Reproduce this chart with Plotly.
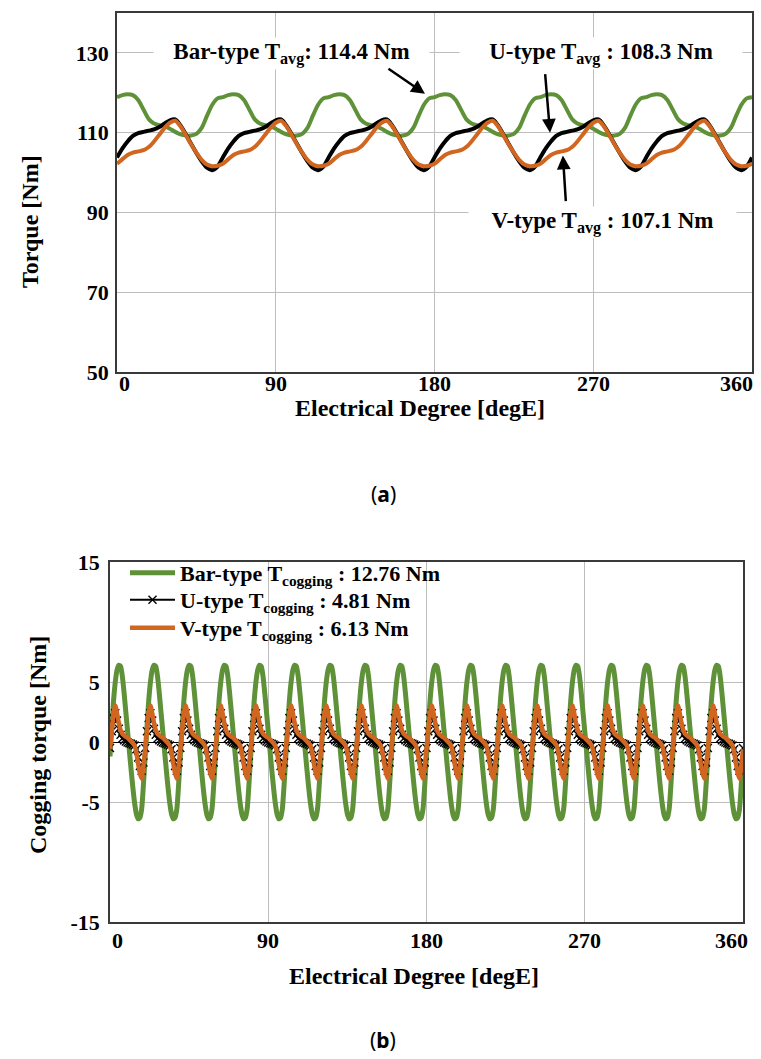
import plotly.graph_objects as go

W, H = 761, 1059
SERIF = "Liberation Serif, Times New Roman, Times, serif"
GREEN = "#5e9138"
ORANGE = "#d0661f"
GRID = "#bdbdbd"
FRAME = "#3a3a3a"

# ---------------- (a) torque waveforms, sampled every 3 degE ----------------
deg_a = list(range(0, 361, 3))

torque_bar = [
    118.9, 119.4, 119.6, 119.4, 118.2, 115.8, 113.4, 112.3, 111.9, 111.6, 111.0, 110.2, 109.6, 109.3, 109.3, 109.7, 111.2, 114.2, 117.0, 118.6,
    118.9, 119.4, 119.6, 119.4, 118.2, 115.8, 113.4, 112.3, 111.9, 111.6, 111.0, 110.2, 109.6, 109.3, 109.3, 109.7, 111.2, 114.2, 117.0, 118.6,
    118.9, 119.4, 119.6, 119.4, 118.2, 115.8, 113.4, 112.3, 111.9, 111.6, 111.0, 110.2, 109.6, 109.3, 109.3, 109.7, 111.2, 114.2, 117.0, 118.6,
    118.9, 119.4, 119.6, 119.4, 118.2, 115.8, 113.4, 112.3, 111.9, 111.6, 111.0, 110.2, 109.6, 109.3, 109.3, 109.7, 111.2, 114.2, 117.0, 118.6,
    118.9, 119.4, 119.6, 119.4, 118.2, 115.8, 113.4, 112.3, 111.9, 111.6, 111.0, 110.2, 109.6, 109.3, 109.3, 109.7, 111.2, 114.2, 117.0, 118.6,
    118.9, 119.4, 119.6, 119.4, 118.2, 115.8, 113.4, 112.3, 111.9, 111.6, 111.0, 110.2, 109.6, 109.3, 109.3, 109.7, 111.2, 114.2, 117.0, 118.6,
    118.9,
]

torque_u = [
    103.8, 106.0, 107.8, 109.2, 109.9, 110.2, 110.5, 110.8, 111.4, 112.3, 113.1, 113.3, 111.8, 109.6, 107.2, 104.9, 102.8, 101.2, 100.6, 101.5,
    103.8, 106.0, 107.8, 109.2, 109.9, 110.2, 110.5, 110.8, 111.4, 112.3, 113.1, 113.3, 111.8, 109.6, 107.2, 104.9, 102.8, 101.2, 100.6, 101.5,
    103.8, 106.0, 107.8, 109.2, 109.9, 110.2, 110.5, 110.8, 111.4, 112.3, 113.1, 113.3, 111.8, 109.6, 107.2, 104.9, 102.8, 101.2, 100.6, 101.5,
    103.8, 106.0, 107.8, 109.2, 109.9, 110.2, 110.5, 110.8, 111.4, 112.3, 113.1, 113.3, 111.8, 109.6, 107.2, 104.9, 102.8, 101.2, 100.6, 101.5,
    103.8, 106.0, 107.8, 109.2, 109.9, 110.2, 110.5, 110.8, 111.4, 112.3, 113.1, 113.3, 111.8, 109.6, 107.2, 104.9, 102.8, 101.2, 100.6, 101.5,
    103.8, 106.0, 107.8, 109.2, 109.9, 110.2, 110.5, 110.8, 111.4, 112.3, 113.1, 113.3, 111.8, 109.6, 107.2, 104.9, 102.8, 101.2, 100.6, 101.5,
    103.8,
]

torque_v = [
    102.2, 103.3, 104.4, 105.0, 105.3, 105.6, 106.4, 107.8, 109.5, 111.2, 112.5, 113.0, 111.6, 109.4, 107.1, 105.0, 103.2, 102.0, 101.6, 101.7,
    102.2, 103.3, 104.4, 105.0, 105.3, 105.6, 106.4, 107.8, 109.5, 111.2, 112.5, 113.0, 111.6, 109.4, 107.1, 105.0, 103.2, 102.0, 101.6, 101.7,
    102.2, 103.3, 104.4, 105.0, 105.3, 105.6, 106.4, 107.8, 109.5, 111.2, 112.5, 113.0, 111.6, 109.4, 107.1, 105.0, 103.2, 102.0, 101.6, 101.7,
    102.2, 103.3, 104.4, 105.0, 105.3, 105.6, 106.4, 107.8, 109.5, 111.2, 112.5, 113.0, 111.6, 109.4, 107.1, 105.0, 103.2, 102.0, 101.6, 101.7,
    102.2, 103.3, 104.4, 105.0, 105.3, 105.6, 106.4, 107.8, 109.5, 111.2, 112.5, 113.0, 111.6, 109.4, 107.1, 105.0, 103.2, 102.0, 101.6, 101.7,
    102.2, 103.3, 104.4, 105.0, 105.3, 105.6, 106.4, 107.8, 109.5, 111.2, 112.5, 113.0, 111.6, 109.4, 107.1, 105.0, 103.2, 102.0, 101.6, 101.7,
    102.2,
]

# ---------------- (b) cogging torque, sampled every 1 degE ----------------
deg_b = list(range(0, 361))

cog_bar = [
    -1.2, 1.2, 3.4, 5.0, 6.0, 6.4, 6.3, 5.5, 4.1, 2.5, 0.9, -0.7, -2.3, -3.8, -5.1, -6.0, -6.4, -6.3, -5.6, -3.6,
    -1.2, 1.2, 3.4, 5.0, 6.0, 6.4, 6.3, 5.5, 4.1, 2.5, 0.9, -0.7, -2.3, -3.8, -5.1, -6.0, -6.4, -6.3, -5.6, -3.6,
    -1.2, 1.2, 3.4, 5.0, 6.0, 6.4, 6.3, 5.5, 4.1, 2.5, 0.9, -0.7, -2.3, -3.8, -5.1, -6.0, -6.4, -6.3, -5.6, -3.6,
    -1.2, 1.2, 3.4, 5.0, 6.0, 6.4, 6.3, 5.5, 4.1, 2.5, 0.9, -0.7, -2.3, -3.8, -5.1, -6.0, -6.4, -6.3, -5.6, -3.6,
    -1.2, 1.2, 3.4, 5.0, 6.0, 6.4, 6.3, 5.5, 4.1, 2.5, 0.9, -0.7, -2.3, -3.8, -5.1, -6.0, -6.4, -6.3, -5.6, -3.6,
    -1.2, 1.2, 3.4, 5.0, 6.0, 6.4, 6.3, 5.5, 4.1, 2.5, 0.9, -0.7, -2.3, -3.8, -5.1, -6.0, -6.4, -6.3, -5.6, -3.6,
    -1.2, 1.2, 3.4, 5.0, 6.0, 6.4, 6.3, 5.5, 4.1, 2.5, 0.9, -0.7, -2.3, -3.8, -5.1, -6.0, -6.4, -6.3, -5.6, -3.6,
    -1.2, 1.2, 3.4, 5.0, 6.0, 6.4, 6.3, 5.5, 4.1, 2.5, 0.9, -0.7, -2.3, -3.8, -5.1, -6.0, -6.4, -6.3, -5.6, -3.6,
    -1.2, 1.2, 3.4, 5.0, 6.0, 6.4, 6.3, 5.5, 4.1, 2.5, 0.9, -0.7, -2.3, -3.8, -5.1, -6.0, -6.4, -6.3, -5.6, -3.6,
    -1.2, 1.2, 3.4, 5.0, 6.0, 6.4, 6.3, 5.5, 4.1, 2.5, 0.9, -0.7, -2.3, -3.8, -5.1, -6.0, -6.4, -6.3, -5.6, -3.6,
    -1.2, 1.2, 3.4, 5.0, 6.0, 6.4, 6.3, 5.5, 4.1, 2.5, 0.9, -0.7, -2.3, -3.8, -5.1, -6.0, -6.4, -6.3, -5.6, -3.6,
    -1.2, 1.2, 3.4, 5.0, 6.0, 6.4, 6.3, 5.5, 4.1, 2.5, 0.9, -0.7, -2.3, -3.8, -5.1, -6.0, -6.4, -6.3, -5.6, -3.6,
    -1.2, 1.2, 3.4, 5.0, 6.0, 6.4, 6.3, 5.5, 4.1, 2.5, 0.9, -0.7, -2.3, -3.8, -5.1, -6.0, -6.4, -6.3, -5.6, -3.6,
    -1.2, 1.2, 3.4, 5.0, 6.0, 6.4, 6.3, 5.5, 4.1, 2.5, 0.9, -0.7, -2.3, -3.8, -5.1, -6.0, -6.4, -6.3, -5.6, -3.6,
    -1.2, 1.2, 3.4, 5.0, 6.0, 6.4, 6.3, 5.5, 4.1, 2.5, 0.9, -0.7, -2.3, -3.8, -5.1, -6.0, -6.4, -6.3, -5.6, -3.6,
    -1.2, 1.2, 3.4, 5.0, 6.0, 6.4, 6.3, 5.5, 4.1, 2.5, 0.9, -0.7, -2.3, -3.8, -5.1, -6.0, -6.4, -6.3, -5.6, -3.6,
    -1.2, 1.2, 3.4, 5.0, 6.0, 6.4, 6.3, 5.5, 4.1, 2.5, 0.9, -0.7, -2.3, -3.8, -5.1, -6.0, -6.4, -6.3, -5.6, -3.6,
    -1.2, 1.2, 3.4, 5.0, 6.0, 6.4, 6.3, 5.5, 4.1, 2.5, 0.9, -0.7, -2.3, -3.8, -5.1, -6.0, -6.4, -6.3, -5.6, -3.6,
    -1.2,
]

cog_u = [
    -0.5, 0.9, 2.0, 2.4, 1.8, 1.1, 0.6, 0.3, 0.15, 0.05, -0.05, -0.1, -0.15, -0.2, -0.3, -0.6, -1.3, -2.0, -2.4, -1.7,
    -0.5, 0.9, 2.0, 2.4, 1.8, 1.1, 0.6, 0.3, 0.15, 0.05, -0.05, -0.1, -0.15, -0.2, -0.3, -0.6, -1.3, -2.0, -2.4, -1.7,
    -0.5, 0.9, 2.0, 2.4, 1.8, 1.1, 0.6, 0.3, 0.15, 0.05, -0.05, -0.1, -0.15, -0.2, -0.3, -0.6, -1.3, -2.0, -2.4, -1.7,
    -0.5, 0.9, 2.0, 2.4, 1.8, 1.1, 0.6, 0.3, 0.15, 0.05, -0.05, -0.1, -0.15, -0.2, -0.3, -0.6, -1.3, -2.0, -2.4, -1.7,
    -0.5, 0.9, 2.0, 2.4, 1.8, 1.1, 0.6, 0.3, 0.15, 0.05, -0.05, -0.1, -0.15, -0.2, -0.3, -0.6, -1.3, -2.0, -2.4, -1.7,
    -0.5, 0.9, 2.0, 2.4, 1.8, 1.1, 0.6, 0.3, 0.15, 0.05, -0.05, -0.1, -0.15, -0.2, -0.3, -0.6, -1.3, -2.0, -2.4, -1.7,
    -0.5, 0.9, 2.0, 2.4, 1.8, 1.1, 0.6, 0.3, 0.15, 0.05, -0.05, -0.1, -0.15, -0.2, -0.3, -0.6, -1.3, -2.0, -2.4, -1.7,
    -0.5, 0.9, 2.0, 2.4, 1.8, 1.1, 0.6, 0.3, 0.15, 0.05, -0.05, -0.1, -0.15, -0.2, -0.3, -0.6, -1.3, -2.0, -2.4, -1.7,
    -0.5, 0.9, 2.0, 2.4, 1.8, 1.1, 0.6, 0.3, 0.15, 0.05, -0.05, -0.1, -0.15, -0.2, -0.3, -0.6, -1.3, -2.0, -2.4, -1.7,
    -0.5, 0.9, 2.0, 2.4, 1.8, 1.1, 0.6, 0.3, 0.15, 0.05, -0.05, -0.1, -0.15, -0.2, -0.3, -0.6, -1.3, -2.0, -2.4, -1.7,
    -0.5, 0.9, 2.0, 2.4, 1.8, 1.1, 0.6, 0.3, 0.15, 0.05, -0.05, -0.1, -0.15, -0.2, -0.3, -0.6, -1.3, -2.0, -2.4, -1.7,
    -0.5, 0.9, 2.0, 2.4, 1.8, 1.1, 0.6, 0.3, 0.15, 0.05, -0.05, -0.1, -0.15, -0.2, -0.3, -0.6, -1.3, -2.0, -2.4, -1.7,
    -0.5, 0.9, 2.0, 2.4, 1.8, 1.1, 0.6, 0.3, 0.15, 0.05, -0.05, -0.1, -0.15, -0.2, -0.3, -0.6, -1.3, -2.0, -2.4, -1.7,
    -0.5, 0.9, 2.0, 2.4, 1.8, 1.1, 0.6, 0.3, 0.15, 0.05, -0.05, -0.1, -0.15, -0.2, -0.3, -0.6, -1.3, -2.0, -2.4, -1.7,
    -0.5, 0.9, 2.0, 2.4, 1.8, 1.1, 0.6, 0.3, 0.15, 0.05, -0.05, -0.1, -0.15, -0.2, -0.3, -0.6, -1.3, -2.0, -2.4, -1.7,
    -0.5, 0.9, 2.0, 2.4, 1.8, 1.1, 0.6, 0.3, 0.15, 0.05, -0.05, -0.1, -0.15, -0.2, -0.3, -0.6, -1.3, -2.0, -2.4, -1.7,
    -0.5, 0.9, 2.0, 2.4, 1.8, 1.1, 0.6, 0.3, 0.15, 0.05, -0.05, -0.1, -0.15, -0.2, -0.3, -0.6, -1.3, -2.0, -2.4, -1.7,
    -0.5, 0.9, 2.0, 2.4, 1.8, 1.1, 0.6, 0.3, 0.15, 0.05, -0.05, -0.1, -0.15, -0.2, -0.3, -0.6, -1.3, -2.0, -2.4, -1.7,
    -0.5,
]

cog_v = [
    -0.6, 0.9, 2.4, 3.05, 2.4, 1.6, 1.0, 0.7, 0.55, 0.45, 0.35, 0.2, 0.05, -0.1, -0.3, -0.9, -1.8, -2.6, -3.05, -2.0,
    -0.6, 0.9, 2.4, 3.05, 2.4, 1.6, 1.0, 0.7, 0.55, 0.45, 0.35, 0.2, 0.05, -0.1, -0.3, -0.9, -1.8, -2.6, -3.05, -2.0,
    -0.6, 0.9, 2.4, 3.05, 2.4, 1.6, 1.0, 0.7, 0.55, 0.45, 0.35, 0.2, 0.05, -0.1, -0.3, -0.9, -1.8, -2.6, -3.05, -2.0,
    -0.6, 0.9, 2.4, 3.05, 2.4, 1.6, 1.0, 0.7, 0.55, 0.45, 0.35, 0.2, 0.05, -0.1, -0.3, -0.9, -1.8, -2.6, -3.05, -2.0,
    -0.6, 0.9, 2.4, 3.05, 2.4, 1.6, 1.0, 0.7, 0.55, 0.45, 0.35, 0.2, 0.05, -0.1, -0.3, -0.9, -1.8, -2.6, -3.05, -2.0,
    -0.6, 0.9, 2.4, 3.05, 2.4, 1.6, 1.0, 0.7, 0.55, 0.45, 0.35, 0.2, 0.05, -0.1, -0.3, -0.9, -1.8, -2.6, -3.05, -2.0,
    -0.6, 0.9, 2.4, 3.05, 2.4, 1.6, 1.0, 0.7, 0.55, 0.45, 0.35, 0.2, 0.05, -0.1, -0.3, -0.9, -1.8, -2.6, -3.05, -2.0,
    -0.6, 0.9, 2.4, 3.05, 2.4, 1.6, 1.0, 0.7, 0.55, 0.45, 0.35, 0.2, 0.05, -0.1, -0.3, -0.9, -1.8, -2.6, -3.05, -2.0,
    -0.6, 0.9, 2.4, 3.05, 2.4, 1.6, 1.0, 0.7, 0.55, 0.45, 0.35, 0.2, 0.05, -0.1, -0.3, -0.9, -1.8, -2.6, -3.05, -2.0,
    -0.6, 0.9, 2.4, 3.05, 2.4, 1.6, 1.0, 0.7, 0.55, 0.45, 0.35, 0.2, 0.05, -0.1, -0.3, -0.9, -1.8, -2.6, -3.05, -2.0,
    -0.6, 0.9, 2.4, 3.05, 2.4, 1.6, 1.0, 0.7, 0.55, 0.45, 0.35, 0.2, 0.05, -0.1, -0.3, -0.9, -1.8, -2.6, -3.05, -2.0,
    -0.6, 0.9, 2.4, 3.05, 2.4, 1.6, 1.0, 0.7, 0.55, 0.45, 0.35, 0.2, 0.05, -0.1, -0.3, -0.9, -1.8, -2.6, -3.05, -2.0,
    -0.6, 0.9, 2.4, 3.05, 2.4, 1.6, 1.0, 0.7, 0.55, 0.45, 0.35, 0.2, 0.05, -0.1, -0.3, -0.9, -1.8, -2.6, -3.05, -2.0,
    -0.6, 0.9, 2.4, 3.05, 2.4, 1.6, 1.0, 0.7, 0.55, 0.45, 0.35, 0.2, 0.05, -0.1, -0.3, -0.9, -1.8, -2.6, -3.05, -2.0,
    -0.6, 0.9, 2.4, 3.05, 2.4, 1.6, 1.0, 0.7, 0.55, 0.45, 0.35, 0.2, 0.05, -0.1, -0.3, -0.9, -1.8, -2.6, -3.05, -2.0,
    -0.6, 0.9, 2.4, 3.05, 2.4, 1.6, 1.0, 0.7, 0.55, 0.45, 0.35, 0.2, 0.05, -0.1, -0.3, -0.9, -1.8, -2.6, -3.05, -2.0,
    -0.6, 0.9, 2.4, 3.05, 2.4, 1.6, 1.0, 0.7, 0.55, 0.45, 0.35, 0.2, 0.05, -0.1, -0.3, -0.9, -1.8, -2.6, -3.05, -2.0,
    -0.6, 0.9, 2.4, 3.05, 2.4, 1.6, 1.0, 0.7, 0.55, 0.45, 0.35, 0.2, 0.05, -0.1, -0.3, -0.9, -1.8, -2.6, -3.05, -2.0,
    -0.6,
]

x_ticks = [0, 90, 180, 270, 360]
x_tick_text = ["0", "90", "180", "270", "360"]
ya_ticks = [50, 70, 90, 110, 130]
yb_ticks = [-15, -5, 0, 5, 15]
yb_tick_text = ["-15", "-5", "0", "5", "15"]

legend_names = [
    "Bar-type T<sub>cogging</sub> : 12.76 Nm",
    "U-type T<sub>cogging</sub> : 4.81 Nm",
    "V-type T<sub>cogging</sub> : 6.13 Nm",
]
callouts = [
    "Bar-type T<sub>avg</sub>: 114.4 Nm",
    "U-type T<sub>avg</sub> : 108.3 Nm",
    "V-type T<sub>avg</sub> : 107.1 Nm",
]


def px(x):
    return x / W


def py(y):
    return 1 - y / H


fig = go.Figure()

# (a) traces
for ys, col in ((torque_bar, GREEN), (torque_u, "black"), (torque_v, ORANGE)):
    fig.add_trace(go.Scatter(x=deg_a, y=ys, mode="lines", xaxis="x", yaxis="y",
                             line=dict(color=col, width=4, shape="spline", smoothing=0.8),
                             showlegend=False, hoverinfo="skip"))

# (b) traces, each with its own legend row
fig.add_trace(go.Scatter(x=deg_b, y=cog_bar, mode="lines", xaxis="x2", yaxis="y2",
                         name=legend_names[0], legend="legend",
                         line=dict(color=GREEN, width=5, shape="spline", smoothing=0.6)))
fig.add_trace(go.Scatter(x=deg_b, y=cog_u, mode="lines+markers", xaxis="x2", yaxis="y2",
                         name=legend_names[1], legend="legend2",
                         line=dict(color="black", width=2),
                         marker=dict(symbol="x-thin", size=8, color="black",
                                     line=dict(width=1.4, color="black"))))
fig.add_trace(go.Scatter(x=deg_b, y=cog_v, mode="lines", xaxis="x2", yaxis="y2",
                         name=legend_names[2], legend="legend3",
                         line=dict(color=ORANGE, width=4.5, shape="spline", smoothing=0.6)))

tickfont = dict(family=SERIF, size=22, color="black", weight="bold")
axis_common = dict(showgrid=True, gridcolor=GRID, gridwidth=1.3, showline=True,
                   linecolor=FRAME, linewidth=1.5, mirror=True, ticks="",
                   tickfont=tickfont, automargin=False, fixedrange=True)

legend_common = dict(xanchor="left", yanchor="middle", bgcolor="rgba(0,0,0,0)", borderwidth=0,
                     font=dict(family=SERIF, size=22, color="black", weight="bold"),
                     itemwidth=45)

fig.update_layout(
    width=W, height=H, autosize=False,
    margin=dict(l=0, r=0, t=0, b=0),
    paper_bgcolor="white", plot_bgcolor="white",
    xaxis=dict(axis_common, domain=[px(117), px(752)], range=[0, 360], tickvals=x_ticks,
               showticklabels=False, zeroline=False, anchor="y"),
    yaxis=dict(axis_common, domain=[py(372), py(13)], range=[50, 140], tickvals=ya_ticks,
               zeroline=False, anchor="x", ticklabelstandoff=2),
    xaxis2=dict(axis_common, domain=[px(110), px(743)], range=[0, 360], tickvals=x_ticks,
                showticklabels=False, zeroline=False, anchor="y2"),
    yaxis2=dict(axis_common, domain=[py(922), py(562)], range=[-15, 15], tickvals=yb_ticks,
                ticktext=yb_tick_text, zeroline=True, zerolinecolor="black", zerolinewidth=1.3,
                anchor="x2", ticklabelstandoff=4),
    showlegend=True,
    legend=dict(legend_common, x=px(125), y=py(573)),
    legend2=dict(legend_common, x=px(125), y=py(600)),
    legend3=dict(legend_common, x=px(125), y=py(628)),
)

ann = []
bold_font = dict(family=SERIF, color="black", weight="bold")

# x tick labels for both panels
for xref, yrow, shift_r in (("x", 383, 3), ("x2", 940, 7)):
    for v, t in zip(x_ticks, x_tick_text):
        anchor = "left" if v == 0 else ("right" if v == 360 else "center")
        ann.append(dict(x=v, y=py(yrow), xref=xref, yref="paper", text=t, showarrow=False,
                        xanchor=anchor, yanchor="middle", xshift=shift_r if v == 360 else 0,
                        font=dict(bold_font, size=22)))

# axis titles
ann.append(dict(x=px(420), y=py(408), xref="paper", yref="paper", text="Electrical Degree [degE]",
                showarrow=False, xanchor="center", yanchor="middle", font=dict(bold_font, size=24)))
ann.append(dict(x=px(414), y=py(976), xref="paper", yref="paper", text="Electrical Degree [degE]",
                showarrow=False, xanchor="center", yanchor="middle", font=dict(bold_font, size=24)))
ann.append(dict(x=px(30), y=py(222), xref="paper", yref="paper", text="Torque [Nm]", textangle=-90,
                showarrow=False, xanchor="center", yanchor="middle", font=dict(bold_font, size=24)))
ann.append(dict(x=px(38), y=py(745), xref="paper", yref="paper", text="Cogging torque [Nm]",
                textangle=-90, showarrow=False, xanchor="center", yanchor="middle",
                font=dict(bold_font, size=24)))

# panel captions
for label, yy in (("a", 494), ("b", 1040)):
    ann.append(dict(x=px(383), y=py(yy), xref="paper", yref="paper", text=f"(<b>{label}</b>)",
                    showarrow=False, xanchor="center", yanchor="middle",
                    font=dict(family="Noto Sans", size=21, color="black")))

# average-torque callouts in panel (a)
callout_pos = [(99.2, 129.75, 273), (274.4, 129.75, 280), (275.0, 87.6, 265)]
for text, (cx, cy, wbox) in zip(callouts, callout_pos):
    ann.append(dict(x=cx, y=cy, xref="x", yref="y", text=text, showarrow=False,
                    xanchor="center", yanchor="middle", bgcolor="white", width=wbox,
                    font=dict(bold_font, size=23)))

# arrows pointing at the curves
arrows = [(174.6, 119.75, -38, -26), (245.5, 110.0, -5, -60), (252.8, 104.25, 3, 47)]
for hx, hy, axo, ayo in arrows:
    ann.append(dict(x=hx, y=hy, xref="x", yref="y", ax=axo, ay=ayo, text="", showarrow=True,
                    arrowhead=2, arrowsize=1.1, arrowwidth=2.5, arrowcolor="black"))

fig.update_layout(annotations=ann)

fig.write_html("out.html")
